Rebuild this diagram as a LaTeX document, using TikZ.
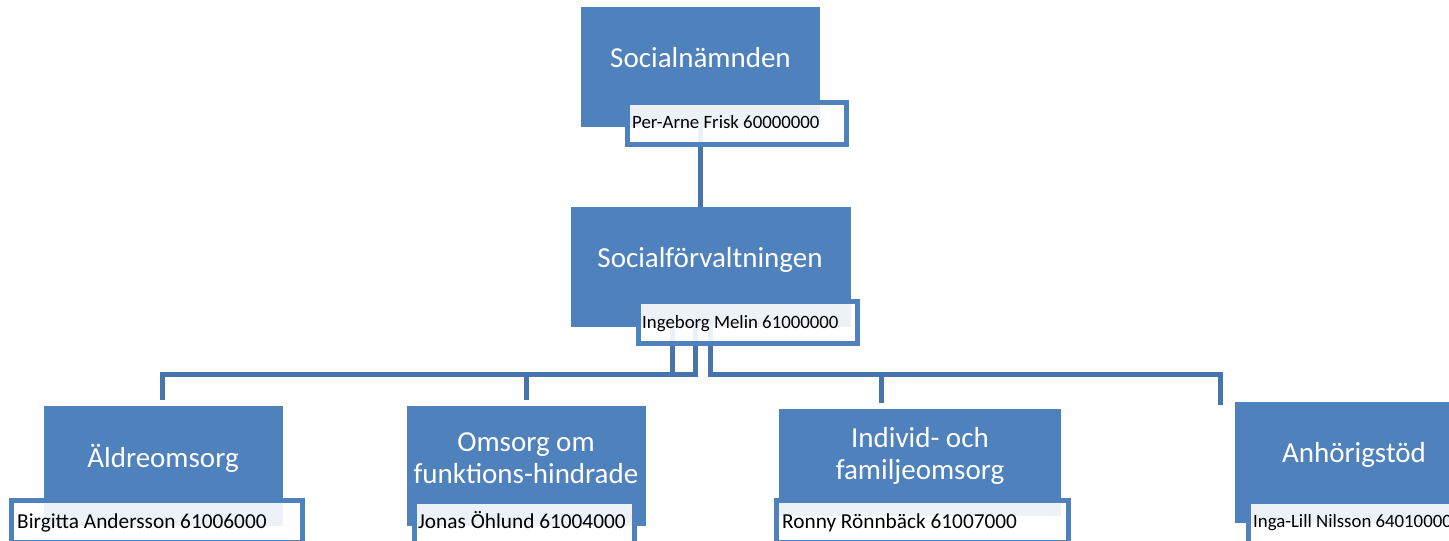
\documentclass[tikz,border=0pt]{standalone}
\usepackage{fontspec}
\setmainfont{Carlito}
\definecolor{boxblue}{HTML}{4F81BD}
\definecolor{lineblue}{HTML}{4674AC}
\begin{document}
\begin{tikzpicture}[x=1pt,y=-1pt,
  bluebox/.style={draw=none,fill=boxblue,inner sep=0pt,minimum height=120pt},
  namebox/.style={draw=boxblue,line width=5pt,fill=white,fill opacity=0.9,inner sep=0pt,minimum height=42pt},
  title/.style={text=white,font=\fontsize{29}{32}\selectfont,align=center,inner sep=0pt,anchor=base},
  person/.style={text=black,font=\fontsize{18.8}{20}\selectfont,inner sep=0pt,anchor=base west},
  bigperson/.style={person,font=\fontsize{21.3}{23}\selectfont},
  conn/.style={draw=lineblue,line width=5pt}]
\clip (0,0) rectangle (1449,541);
\fill[white] (0,0) rectangle (1449,541);
% blue boxes
\node[bluebox,minimum width=239pt] (B1) at (700.5,67) {};
\node[bluebox,minimum width=280pt] (B2) at (711,267) {};
\node[bluebox,minimum width=239pt] (B3) at (163.5,466) {};
\node[bluebox,minimum width=239pt] (B4) at (526.5,466) {};
\node[bluebox,minimum width=282pt,minimum height=107pt] (B5) at (920,462.5) {};
\node[bluebox,minimum width=239pt,minimum height=121pt] (B6) at (1354.5,462.5) {};
% connectors
\coordinate (bus) at (0,374.5);
\draw[conn] (B1.south) -- (B1.south |- B2.north);
\draw[conn] ([xshift=-38.5pt]B2.south) -- ([xshift=-38.5pt]B2.south |- bus) -| ([xshift=-1pt,yshift=6pt]B3.north);
\draw[conn] ([xshift=-15.5pt]B2.south) -- ([xshift=-15.5pt]B2.south |- bus) -| ([xshift=-0.5pt,yshift=6pt]B4.north);
\draw[conn] ([xshift=-0.5pt]B2.south) -- ([xshift=-0.5pt]B2.south |- bus) -| ([xshift=-39pt,yshift=6pt]B5.north);
\draw[conn] ([xshift=-0.5pt]B2.south) -- ([xshift=-0.5pt]B2.south |- bus) -| ([xshift=-134.5pt,yshift=-3pt]B6.north);
% name frames
\node[namebox,minimum width=219pt] (F1) at (737,123.5) {};
\node[namebox,minimum width=219pt] (F2) at (748,322.5) {};
\node[namebox,minimum width=291pt] (F3) at (157,521.5) {};
\node[namebox,minimum width=220pt] (F4) at (524.5,522) {};
\node[namebox,minimum width=292pt] (F5) at (922.5,521.5) {};
\node[namebox,minimum width=219pt] (F6) at (1358,522) {};
% titles
\node[title] (T1) at (700.5,67) {Socialnämnden};
\node[title] (T2) at (710,267) {Socialförvaltningen};
\node[title] (T3) at (163,467) {Äldreomsorg};
\node[title] (T4) at (526,483) {Omsorg om\\funktions-hindrade};
\node[title] (T5) at (920,479) {Individ- och\\familjeomsorg};
\node[title] (T6) at (1354,462) {Anhörigstöd};
% persons
\node[person] (N1) at (632,128) {Per-Arne Frisk 60000000};
\node[person] (N2) at (642,328) {Ingeborg Melin 61000000};
\node[bigperson] (N3) at (17,528) {Birgitta Andersson 61006000};
\node[bigperson] (N4) at (418,528) {Jonas Öhlund 61004000};
\node[bigperson] (N5) at (782,528) {Ronny Rönnbäck 61007000};
\node[person] (N6) at (1253,527) {Inga-Lill Nilsson 64010000};
\end{tikzpicture}
\end{document}
